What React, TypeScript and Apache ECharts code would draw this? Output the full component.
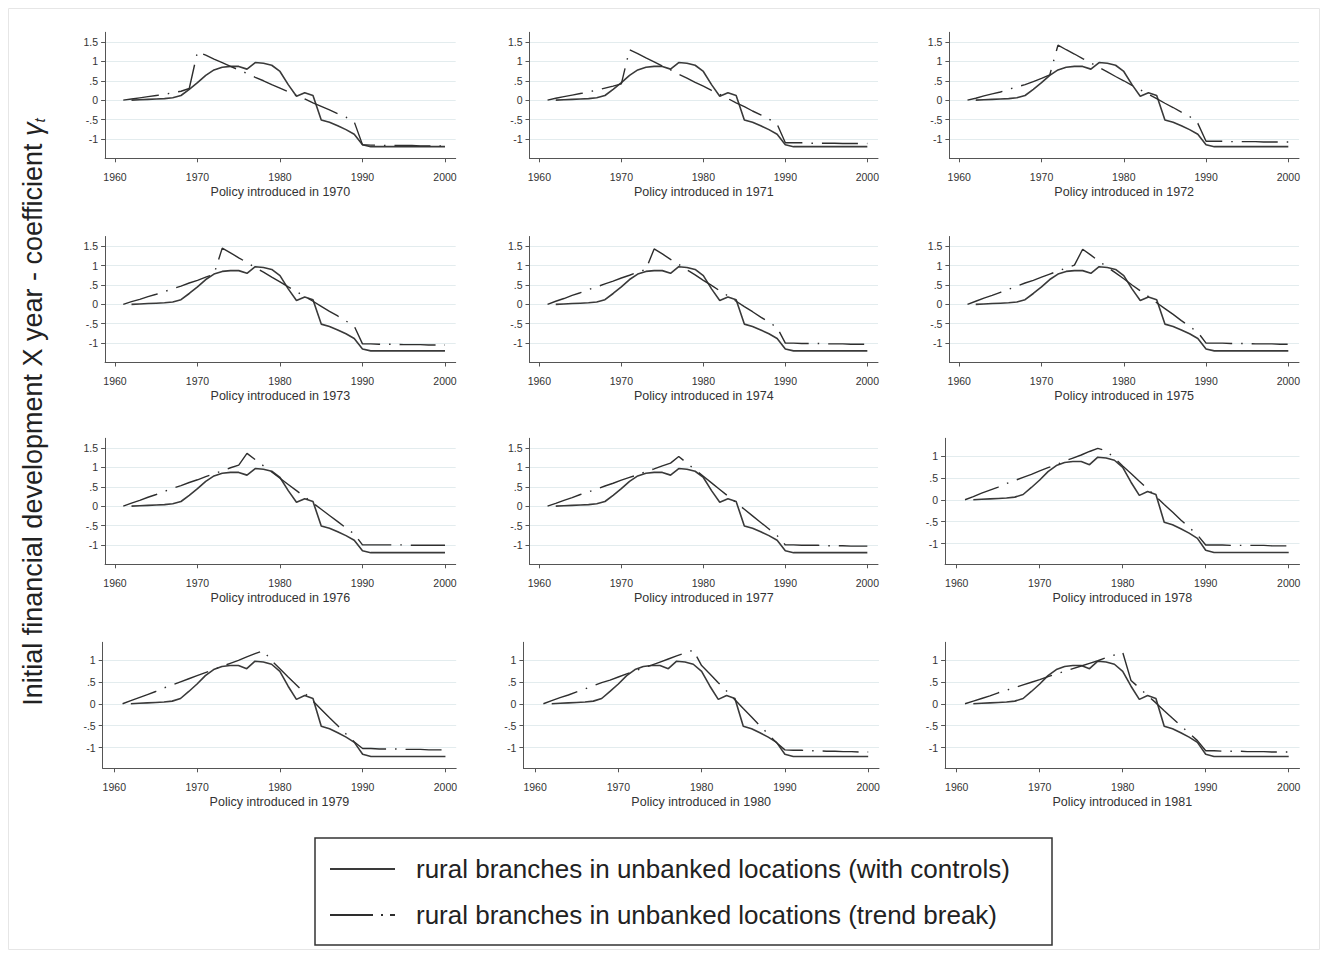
import React, { useEffect, useRef } from 'react';
import * as echarts from 'echarts';

// ---------- data ----------
const years = [
  1961, 1962, 1963, 1964, 1965, 1966, 1967, 1968, 1969, 1970,
  1971, 1972, 1973, 1974, 1975, 1976, 1977, 1978, 1979, 1980,
  1981, 1982, 1983, 1984, 1985, 1986, 1987, 1988, 1989, 1990,
  1991, 1992, 1993, 1994, 1995, 1996, 1997, 1998, 1999, 2000,
];

// rural branches in unbanked locations (with controls) - identical in every panel
const withControls = [
  null, 0, 0.01, 0.02, 0.03, 0.04, 0.06, 0.12, 0.28, 0.45,
  0.64, 0.78, 0.85, 0.87, 0.87, 0.8, 0.97, 0.95, 0.9, 0.74,
  0.4, 0.1, 0.19, 0.12, -0.51, -0.57, -0.66, -0.76, -0.88, -1.15,
  -1.2, -1.2, -1.2, -1.2, -1.2, -1.2, -1.2, -1.2, -1.2, -1.2,
];

// rural branches in unbanked locations (trend break), one per policy year
const tb1970 = [
  0, 0.03, 0.06, 0.09, 0.12, 0.15, 0.19, 0.23, 0.3, 1.25,
  1.16, 1.06, 0.97, 0.87, 0.78, 0.69, 0.59, 0.5, 0.4, 0.31,
  0.22, 0.12, 0.03, -0.07, -0.16, -0.25, -0.35, -0.44, -0.56, -1.15,
  -1.16, -1.16, -1.17, -1.17, -1.17, -1.17, -1.18, -1.18, -1.18, -1.18,
];
const tb1971 = [
  0, 0.05, 0.09, 0.13, 0.17, 0.21, 0.26, 0.31, 0.36, 0.42,
  1.3, 1.2, 1.09, 0.99, 0.88, 0.78, 0.67, 0.57, 0.46, 0.36,
  0.25, 0.15, 0.04, -0.07, -0.17, -0.28, -0.38, -0.49, -0.62, -1.1,
  -1.1, -1.1, -1.11, -1.11, -1.11, -1.11, -1.12, -1.12, -1.12, -1.12,
];
const tb1972 = [
  0, 0.05, 0.11, 0.16, 0.21, 0.28, 0.34, 0.4, 0.48, 0.56,
  0.65, 1.42, 1.3, 1.19, 1.07, 0.96, 0.84, 0.73, 0.61, 0.5,
  0.38, 0.27, 0.15, 0.04, -0.08, -0.19, -0.31, -0.42, -0.6, -1.06,
  -1.06, -1.06, -1.07, -1.07, -1.07, -1.07, -1.08, -1.08, -1.08, -1.08,
];
const tb1973 = [
  0, 0.07, 0.13, 0.2, 0.26, 0.33, 0.4, 0.47, 0.55, 0.62,
  0.7, 0.78, 1.45, 1.33, 1.2, 1.08, 0.95, 0.83, 0.7, 0.58,
  0.45, 0.33, 0.2, 0.08, -0.05, -0.18, -0.3, -0.43, -0.56, -1.02,
  -1.02, -1.03, -1.03, -1.03, -1.04, -1.04, -1.04, -1.05, -1.05, -1.05,
];
const tb1974 = [
  0, 0.08, 0.15, 0.23, 0.3, 0.38, 0.45, 0.53, 0.6, 0.68,
  0.75, 0.83, 0.9, 1.43, 1.3, 1.16, 1.03, 0.89, 0.76, 0.62,
  0.49, 0.35, 0.22, 0.08, -0.06, -0.19, -0.33, -0.46, -0.6, -1.0,
  -1.0, -1.01, -1.01, -1.01, -1.02, -1.02, -1.02, -1.03, -1.03, -1.03,
];
const tb1975 = [
  0, 0.08, 0.16, 0.23, 0.31, 0.39, 0.47, 0.55, 0.62, 0.7,
  0.78, 0.86, 0.94, 1.01, 1.42, 1.27, 1.11, 0.96, 0.81, 0.66,
  0.5, 0.35, 0.2, 0.04, -0.11, -0.26, -0.42, -0.57, -0.72, -1.0,
  -1.0, -1.0, -1.01, -1.01, -1.01, -1.02, -1.02, -1.02, -1.03, -1.03,
];
const tb1976 = [
  0, 0.08, 0.15, 0.23, 0.3, 0.38, 0.46, 0.53, 0.61, 0.68,
  0.76, 0.84, 0.91, 0.99, 1.06, 1.36, 1.2, 1.04, 0.88, 0.72,
  0.56, 0.4, 0.24, 0.08, -0.08, -0.24, -0.4, -0.56, -0.72, -1.0,
  -1.0, -1.0, -1.0, -1.0, -1.0, -1.01, -1.01, -1.01, -1.01, -1.01,
];
const tb1977 = [
  0, 0.07, 0.15, 0.22, 0.3, 0.37, 0.44, 0.52, 0.59, 0.67,
  0.74, 0.81, 0.89, 0.96, 1.04, 1.11, 1.28, 1.11, 0.94, 0.77,
  0.6, 0.43, 0.26, 0.09, -0.08, -0.25, -0.42, -0.59, -0.76, -1.0,
  -1.0, -1.01, -1.01, -1.01, -1.02, -1.02, -1.02, -1.03, -1.03, -1.03,
];
const tb1978 = [
  0, 0.07, 0.15, 0.22, 0.29, 0.37, 0.44, 0.51, 0.58, 0.66,
  0.73, 0.8, 0.88, 0.95, 1.02, 1.1, 1.17, 1.12, 0.95, 0.77,
  0.6, 0.42, 0.25, 0.07, -0.11, -0.28, -0.46, -0.63, -0.8, -1.03,
  -1.03, -1.03, -1.04, -1.04, -1.04, -1.04, -1.04, -1.05, -1.05, -1.05,
];
const tb1979 = [
  0, 0.07, 0.14, 0.21, 0.28, 0.36, 0.43, 0.5, 0.57, 0.64,
  0.71, 0.78, 0.85, 0.92, 0.99, 1.07, 1.14, 1.21, 0.98, 0.8,
  0.61, 0.43, 0.24, 0.06, -0.13, -0.32, -0.5, -0.69, -0.87, -1.02,
  -1.02, -1.03, -1.03, -1.03, -1.04, -1.04, -1.04, -1.05, -1.05, -1.05,
];
const tb1980 = [
  0, 0.07, 0.14, 0.2, 0.27, 0.34, 0.41, 0.48, 0.54, 0.61,
  0.68, 0.75, 0.82, 0.88, 0.95, 1.02, 1.09, 1.16, 1.22, 0.87,
  0.68, 0.48, 0.29, 0.09, -0.11, -0.3, -0.5, -0.69, -0.89, -1.05,
  -1.06, -1.06, -1.07, -1.07, -1.08, -1.08, -1.09, -1.09, -1.1, -1.1,
];
const tb1981 = [
  0, 0.06, 0.12, 0.18, 0.25, 0.31, 0.37, 0.43, 0.49, 0.55,
  0.62, 0.68, 0.74, 0.8, 0.86, 0.92, 0.98, 1.05, 1.11, 1.17,
  0.53, 0.36, 0.19, 0.02, -0.16, -0.33, -0.5, -0.67, -0.84, -1.07,
  -1.07, -1.08, -1.08, -1.08, -1.09, -1.09, -1.09, -1.1, -1.1, -1.1,
];

const policyYears = [1970, 1971, 1972, 1973, 1974, 1975, 1976, 1977, 1978, 1979, 1980, 1981];
const trendBreak = [tb1970, tb1971, tb1972, tb1973, tb1974, tb1975, tb1976, tb1977, tb1978, tb1979, tb1980, tb1981];

const xTickLabels = [1960, 1970, 1980, 1990, 2000];
const yTicksTall = [-1, -0.5, 0, 0.5, 1, 1.5];
const yTicksShort = [-1, -0.5, 0, 0.5, 1];

const seriesNames = [
  'rural branches in unbanked locations (with controls)',
  'rural branches in unbanked locations (trend break)',
];
const yTitleText = 'Initial financial development X year - coefficient ';

// ---------- layout ----------
const FONT = "'Liberation Sans', Arial, Helvetica, sans-serif";
const rowBottom = [158.3, 362.5, 564.3, 768.3];
const tallLeft = [105.1, 529.5, 949.4];
const tallWidth = [350.6, 348.5, 349.6];
const shortLeft = [102.7, 523.4, 945.1];
const shortWidth = [353.5, 355.6, 354.4];
const PANEL_H = 126;
const DASH_DOT = [36, 9, 1.5, 9];

function yFmt(v: number) {
  if (v === 0) return '0';
  return String(v).replace('0.', '.');
}

function buildOption() {
  const grid: any[] = [];
  const xAxis: any[] = [];
  const yAxis: any[] = [];
  const series: any[] = [];

  policyYears.forEach((py, i) => {
    const row = Math.floor(i / 3);
    const col = i % 3;
    const tall = i < 8;
    const left = tall ? tallLeft[col] : shortLeft[col];
    const width = tall ? tallWidth[col] : shortWidth[col];
    const bottom = rowBottom[row];
    grid.push({ left, top: bottom - PANEL_H, width, height: PANEL_H, containLabel: false });

    xAxis.push({
      type: 'value',
      gridIndex: i,
      min: tall ? 1958.8 : 1958.6,
      max: 2001.3,
      name: `Policy introduced in ${py}`,
      nameLocation: 'middle',
      nameGap: 27,
      nameTextStyle: { fontFamily: FONT, fontSize: 12.5, color: '#333' },
      axisLine: { show: true, onZero: false, lineStyle: { color: '#555', width: 1 } },
      axisTick: { show: true, length: 4, customValues: xTickLabels, lineStyle: { color: '#555' } },
      axisLabel: {
        show: true, margin: 13, customValues: xTickLabels,
        fontFamily: FONT, fontSize: 10.5, color: '#333',
        formatter: (v: number) => String(v),
      },
      splitLine: { show: false },
    });

    const yt = tall ? yTicksTall : yTicksShort;
    yAxis.push({
      type: 'value',
      gridIndex: i,
      min: tall ? -1.5 : -1.47,
      max: tall ? 1.75 : 1.4,
      axisLine: { show: true, onZero: false, lineStyle: { color: '#555', width: 1 } },
      axisTick: { show: true, length: 4, customValues: yt, lineStyle: { color: '#555' } },
      axisLabel: {
        show: true, margin: 7, customValues: yt,
        fontFamily: FONT, fontSize: 10.5, color: '#333',
        formatter: (v: number) => yFmt(v),
      },
      splitLine: { show: true, lineStyle: { color: '#e3ecee', width: 1 } },
    });

    series.push({
      type: 'line',
      name: seriesNames[0],
      xAxisIndex: i,
      yAxisIndex: i,
      data: years.map((y, k) => [y, withControls[k]]),
      showSymbol: false,
      symbol: 'none',
      connectNulls: false,
      silent: true,
      z: 3,
      lineStyle: { color: '#3a3a3a', width: 1.6 },
    });
    series.push({
      type: 'line',
      name: seriesNames[1],
      xAxisIndex: i,
      yAxisIndex: i,
      data: years.map((y, k) => [y, trendBreak[i][k]]),
      showSymbol: false,
      symbol: 'none',
      silent: true,
      z: 4,
      lineStyle: { color: '#2e2e2e', width: 1.4, type: DASH_DOT, cap: 'butt' },
    });
  });

  const graphic: any[] = [
    {
      type: 'rect',
      shape: { x: 8.5, y: 8.5, width: 1311, height: 941 },
      style: { fill: 'none', stroke: '#e6e6e6', lineWidth: 1 },
      silent: true,
    },
    {
      type: 'text',
      x: 33,
      y: 412,
      rotation: Math.PI / 2,
      style: {
        text: `${yTitleText}{g|γ}{s|t}`,
        fontFamily: FONT,
        fontSize: 27,
        fill: '#222',
        align: 'center',
        verticalAlign: 'middle',
        rich: {
          g: { fontFamily: FONT, fontSize: 27, fontStyle: 'italic', fill: '#222' },
          s: { fontFamily: FONT, fontSize: 15, fontStyle: 'italic', fill: '#222', padding: [12, 0, 0, 0] },
        },
      },
      silent: true,
    },
    {
      type: 'rect',
      shape: { x: 315, y: 838, width: 737, height: 107 },
      style: { fill: '#fff', stroke: '#333', lineWidth: 1.5 },
      silent: true,
    },
    {
      type: 'line',
      shape: { x1: 330, y1: 869, x2: 395, y2: 869 },
      style: { stroke: '#3a3a3a', lineWidth: 2.2 },
      silent: true,
    },
    {
      type: 'line',
      shape: { x1: 330, y1: 915, x2: 395, y2: 915 },
      style: { stroke: '#2e2e2e', lineWidth: 2.2, lineDash: [43, 8, 2, 7], lineCap: 'butt' },
      silent: true,
    },
    {
      type: 'text',
      x: 416,
      y: 869,
      style: { text: seriesNames[0], fontFamily: FONT, fontSize: 26, fill: '#222', verticalAlign: 'middle' },
      silent: true,
    },
    {
      type: 'text',
      x: 416,
      y: 915,
      style: { text: seriesNames[1], fontFamily: FONT, fontSize: 26, fill: '#222', verticalAlign: 'middle' },
      silent: true,
    },
  ];

  return {
    animation: false,
    backgroundColor: '#ffffff',
    grid,
    xAxis,
    yAxis,
    series,
    graphic,
  };
}

export default function App() {
  const ref = useRef<HTMLDivElement>(null);
  useEffect(() => {
    if (!ref.current) return;
    const chart = echarts.init(ref.current, undefined, { renderer: 'svg' });
    chart.setOption(buildOption() as any);
    return () => chart.dispose();
  }, []);
  return (
    <div
      ref={ref}
      style={{ position: 'absolute', left: 0, top: 0, width: 1324, height: 954, background: '#fff' }}
    />
  );
}
